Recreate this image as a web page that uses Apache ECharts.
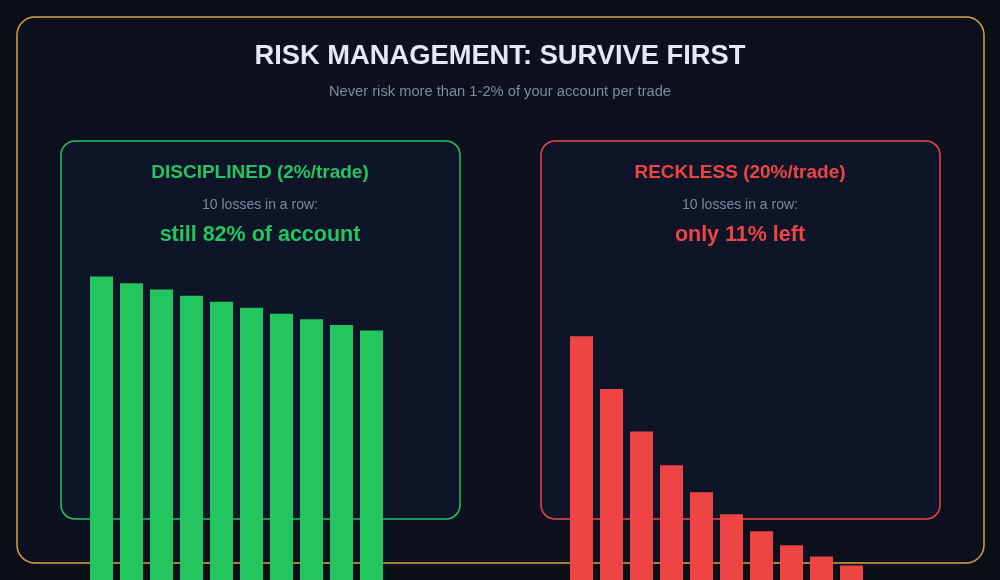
<!DOCTYPE html>
<html>
<head>
<meta charset="utf-8">
<script src="https://cdn.jsdelivr.net/npm/echarts@6/dist/echarts.min.js"></script>
<style>
  html, body { margin: 0; padding: 0; background: #0a0e16; }
  #chart { width: 1000px; height: 580px; }
</style>
</head>
<body>
<div id="chart"></div>
<script>
// account balance (%) after each of 10 consecutive losses
const trades = ['1', '2', '3', '4', '5', '6', '7', '8', '9', '10'];
const disciplined = [98, 96.0, 94.1, 92.2, 90.4, 88.6, 86.8, 85.1, 83.4, 81.7];
const reckless = [80, 64, 51.2, 41.0, 32.8, 26.2, 21.0, 16.8, 13.4, 10.7];

const GREEN = '#22c55e';
const RED = '#ef4444';
const FONT = 'Liberation Sans';

const chart = echarts.init(document.getElementById('chart'));

const panel = (x, color) => ({
  type: 'rect',
  shape: { x: x, y: 141, width: 399, height: 378, r: 14 },
  style: { fill: '#0f1528', stroke: color, lineWidth: 1.5 }
});

const txt = (x, y, text, size, color, weight) => ({
  type: 'text',
  x: x, y: y,
  style: {
    text: text, fill: color,
    fontFamily: FONT, fontSize: size, fontWeight: weight || 'normal',
    textAlign: 'center', textVerticalAlign: 'middle'
  }
});

const hiddenX = (idx) => ({
  type: 'category', gridIndex: idx, data: trades, show: false
});
// the bars run off the bottom of the picture: the axis starts just below the visible edge
const hiddenY = (idx) => ({
  type: 'value', gridIndex: idx, min: 6.3, max: 100, show: false
});

chart.setOption({
  backgroundColor: '#0a0e16',
  animation: false,
  graphic: [
    {
      type: 'rect',
      shape: { x: 17, y: 17, width: 967, height: 546, r: 18 },
      style: { fill: '#0c111d', stroke: '#d8a440', lineWidth: 1.5 }
    },
    panel(61, GREEN),
    panel(541, RED),
    txt(500, 56, 'RISK MANAGEMENT: SURVIVE FIRST', 27.3, '#e2e8f8', 'bold'),
    txt(500, 91.5, 'Never risk more than 1-2% of your account per trade', 14.7, '#7f89a1'),
    txt(260, 172.5, 'DISCIPLINED (2%/trade)', 19, GREEN, 'bold'),
    txt(260, 205.5, '10 losses in a row:', 14, '#7f89a1'),
    txt(260, 235.5, 'still 82% of account', 21.5, GREEN, 'bold'),
    txt(740, 172.5, 'RECKLESS (20%/trade)', 19, RED, 'bold'),
    txt(740, 205.5, '10 losses in a row:', 14, '#7f89a1'),
    txt(740, 235.5, 'only 11% left', 21.5, RED, 'bold')
  ],
  grid: [
    { left: 86.5, top: 270, width: 300, bottom: 0 },
    { left: 566.5, top: 270, width: 300, bottom: 0 }
  ],
  xAxis: [hiddenX(0), hiddenX(1)],
  yAxis: [hiddenY(0), hiddenY(1)],
  series: [
    {
      type: 'bar', xAxisIndex: 0, yAxisIndex: 0, data: disciplined,
      barWidth: 23, itemStyle: { color: GREEN }, z: 5
    },
    {
      type: 'bar', xAxisIndex: 1, yAxisIndex: 1, data: reckless,
      barWidth: 23, itemStyle: { color: RED }, z: 5
    }
  ]
});
</script>
</body>
</html>
